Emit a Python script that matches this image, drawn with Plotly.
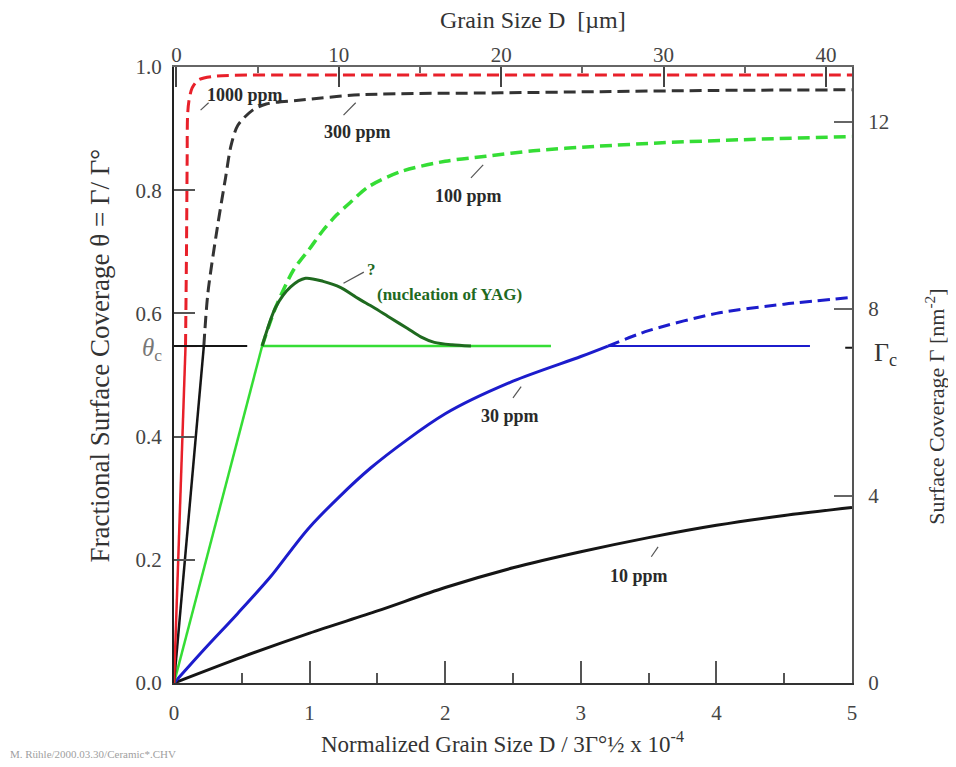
import plotly.graph_objects as go

# ---------------- data ----------------
theta_c = 0.547
gamma_per_theta = 13.17          # right axis: Gamma [nm^-2] at theta = 1

ppm1000_solid_x = [0, 0.085]
ppm1000_solid_y = [0, 0.547]
ppm1000_dash_x = [0.085, 0.092, 0.097, 0.1, 0.11, 0.134, 0.18, 0.3, 1, 2, 3, 4, 5]
ppm1000_dash_y = [0.547, 0.7, 0.85, 0.92, 0.945, 0.966, 0.979, 0.985, 0.987, 0.987, 0.987, 0.987, 0.987]
ppm1000_hline_x = [0.05, 0.17]

ppm300_solid_x = [0, 0.22]
ppm300_solid_y = [0, 0.547]
ppm300_dash_x = [0.22, 0.25, 0.32, 0.38, 0.42, 0.47, 0.58, 0.68, 0.92, 1.38, 2.41, 3.15, 4.0, 5.0]
ppm300_dash_y = [0.547, 0.633, 0.74, 0.82, 0.872, 0.905, 0.93, 0.94, 0.946, 0.955, 0.958, 0.96, 0.962, 0.963]
theta_c_black_x = [-0.07, 0.54]

ppm100_solid_x = [0, 0.65]
ppm100_solid_y = [0, 0.547]
ppm100_dash_x = [0.65, 0.75, 0.88, 1.0, 1.1, 1.2, 1.3, 1.43, 1.67, 2.0, 2.3, 2.65, 3.1, 3.6, 4.2, 5.0]
ppm100_dash_y = [0.547, 0.61, 0.67, 0.705, 0.735, 0.76, 0.78, 0.805, 0.83, 0.847, 0.855, 0.864, 0.871, 0.877, 0.882, 0.887]
ppm100_hline_x = [0.65, 2.78]

yag_x = [0.65, 0.75, 0.86, 0.97, 1.1, 1.23, 1.36, 1.47, 1.6, 1.72, 1.82, 1.92, 2.05, 2.19]
yag_y = [0.547, 0.61, 0.643, 0.657, 0.652, 0.642, 0.624, 0.61, 0.592, 0.576, 0.562, 0.553, 0.549, 0.547]

ppm30_solid_x = [0, 0.22, 0.47, 0.71, 1.0, 1.45, 2.0, 2.5, 3.0, 3.2]
ppm30_solid_y = [0, 0.054, 0.113, 0.172, 0.253, 0.349, 0.437, 0.49, 0.53, 0.547]
ppm30_dash_x = [3.2, 3.5, 4.0, 4.5, 5.0]
ppm30_dash_y = [0.547, 0.572, 0.6, 0.615, 0.626]
ppm30_hline_x = [3.2, 4.69]

ppm10_x = [0, 0.5, 1, 1.5, 2, 2.5, 3, 3.5, 4, 4.5, 5]
ppm10_y = [0, 0.042, 0.081, 0.117, 0.155, 0.187, 0.213, 0.236, 0.256, 0.272, 0.285]

bottom_ticks = [0, 1, 2, 3, 4, 5]
left_ticks = [0.0, 0.2, 0.4, 0.6, 0.8, 1.0]
top_ticks = [0, 10, 20, 30, 40]
right_ticks = [0, 4, 8, 12]

# ---------------- styling ----------------
RED = "#e8202a"
BLACK = "#151515"
GRAY_BLACK = "#333333"
GREEN = "#35dd35"
DKGREEN = "#1f6a1f"
BLUE = "#1c1ccc"
SERIF = "Liberation Serif"
DASH = "12px,6px"

fig = go.Figure()


def add_line(x, y, color, width, dash="solid", shape="spline"):
    fig.add_trace(go.Scatter(x=x, y=y, mode="lines", showlegend=False, hoverinfo="skip",
                             line=dict(color=color, width=width, dash=dash, shape=shape,
                                       smoothing=0.8 if shape == "spline" else None)))


# 10 ppm
add_line(ppm10_x, ppm10_y, BLACK, 3)
# 30 ppm
add_line(ppm30_hline_x, [theta_c] * len(ppm30_hline_x), BLUE, 2, shape="linear")
add_line(ppm30_solid_x, ppm30_solid_y, BLUE, 3)
add_line(ppm30_dash_x, ppm30_dash_y, BLUE, 3, DASH)
# 100 ppm
add_line(ppm100_hline_x, [theta_c] * len(ppm100_hline_x), GREEN, 2.5, shape="linear")
add_line(ppm100_solid_x, ppm100_solid_y, GREEN, 2.5, shape="linear")
add_line(ppm100_dash_x, ppm100_dash_y, GREEN, 3.5, DASH)
add_line(yag_x, yag_y, DKGREEN, 3)
# 300 ppm
add_line(ppm300_solid_x, ppm300_solid_y, BLACK, 2.5, shape="linear")
add_line(ppm300_dash_x, ppm300_dash_y, GRAY_BLACK, 3, DASH)
# 1000 ppm
add_line(ppm1000_hline_x, [theta_c] * len(ppm1000_hline_x), RED, 2, shape="linear")
add_line(ppm1000_solid_x, ppm1000_solid_y, RED, 2.5, shape="linear")
add_line(ppm1000_dash_x, ppm1000_dash_y, RED, 3, DASH)

# secondary axes (top: grain size in um, right: Gamma)
fig.add_trace(go.Scatter(x=[], y=[], xaxis="x2", yaxis="y2", showlegend=False, hoverinfo="skip"))

# theta_c horizontal line crossing the left axis
fig.add_shape(type="line", xref="x", yref="y", x0=theta_c_black_x[0], x1=theta_c_black_x[1],
              y0=theta_c, y1=theta_c, line=dict(color=BLACK, width=2))
# Gamma_c tick crossing the right axis
fig.add_shape(type="line", xref="x", yref="y", x0=4.95, x1=5.09,
              y0=theta_c * 0.995, y1=theta_c * 0.995, line=dict(color=BLACK, width=2))

# label leaders
leaders = [
    ((0.196, 0.930), (0.255, 0.942)),
    ((1.25, 0.922), (1.34, 0.942)),
    ((2.19, 0.820), (2.28, 0.841)),
    ((2.50, 0.463), (2.56, 0.481)),
    ((3.52, 0.205), (3.57, 0.221)),
    ((1.25, 0.649), (1.40, 0.667)),
]
for (a, b) in leaders:
    fig.add_shape(type="line", xref="x", yref="y", x0=a[0], y0=a[1], x1=b[0], y1=b[1],
                  line=dict(color="#555555", width=1.2))

lab_font = dict(family=SERIF, size=18, color="#2a2a2a")
labels = [
    ("<b>1000 ppm</b>", 0.52, 0.955),
    ("<b>300 ppm</b>", 1.35, 0.894),
    ("<b>100 ppm</b>", 2.17, 0.790),
    ("<b>30 ppm</b>", 2.48, 0.433),
    ("<b>10 ppm</b>", 3.43, 0.174),
]
for t, x, y in labels:
    fig.add_annotation(text=t, x=x, y=y, xref="x", yref="y", showarrow=False, font=lab_font,
                       xanchor="center", yanchor="middle")

fig.add_annotation(text="<b>?</b>", x=1.46, y=0.672, xref="x", yref="y", showarrow=False,
                   xanchor="center", yanchor="middle",
                   font=dict(family=SERIF, size=17, color=DKGREEN))
fig.add_annotation(text="<b>(nucleation of YAG)</b>", x=2.03, y=0.631, xref="x", yref="y",
                   showarrow=False, xanchor="center", yanchor="middle",
                   font=dict(family=SERIF, size=17, color=DKGREEN))

# theta_c and Gamma_c labels (outside plot area -> paper coords)
fig.add_annotation(text="<i>θ</i><sub>c</sub>", x=-0.033, y=theta_c - 0.006, xref="paper", yref="paper",
                   xanchor="center", yanchor="middle", showarrow=False,
                   font=dict(family=SERIF, size=25, color="#777777"))
fig.add_annotation(text="Γ<sub>c</sub>", x=1.049, y=theta_c - 0.013, xref="paper", yref="paper",
                   xanchor="center", yanchor="middle", showarrow=False,
                   font=dict(family=SERIF, size=26, color="#333333"))

# axis titles as annotations (off-centre as in the original)
title_color = "#333333"
fig.add_annotation(text="Fractional Surface Coverage θ = Γ/ Γ°", x=-0.109, y=0.532, xref="paper",
                   yref="paper", textangle=-90, showarrow=False, xanchor="center", yanchor="middle",
                   font=dict(family=SERIF, size=27, color=title_color))
fig.add_annotation(text="Surface Coverage Γ [nm<sup>-2</sup>]", x=1.122, y=0.448, xref="paper",
                   yref="paper", textangle=-90, showarrow=False, xanchor="center", yanchor="middle",
                   font=dict(family=SERIF, size=22, color=title_color))
fig.add_annotation(text="Grain Size D  [µm]", x=0.53, y=1.076, xref="paper", yref="paper",
                   showarrow=False, xanchor="center", yanchor="middle",
                   font=dict(family=SERIF, size=24, color=title_color))
fig.add_annotation(text="Normalized Grain Size D / 3Γ°½ x 10<sup>-4</sup>", x=0.484, y=-0.097,
                   xref="paper", yref="paper", showarrow=False, xanchor="center", yanchor="middle",
                   font=dict(family=SERIF, size=23, color=title_color))

fig.add_annotation(text="M. Rühle/2000.03.30/Ceramic*.CHV", x=-0.245, y=-0.115, xref="paper", yref="paper",
                   xanchor="left", yanchor="middle", showarrow=False,
                   font=dict(family=SERIF, size=11, color="#a0a0a0"))

tick_font = dict(family=SERIF, size=21, color="#444444")

fig.update_layout(
    width=940, height=751,
    margin=dict(l=166, r=96, t=59, b=76),
    paper_bgcolor="white", plot_bgcolor="white",
    showlegend=False,
    xaxis=dict(range=[0, 5], tickvals=bottom_ticks, ticks="inside", ticklen=22, tickwidth=1.5,
               tickcolor="#555555", minor=dict(ticks="inside", ticklen=10, dtick=0.5, tickcolor="#555555"),
               showline=True, linecolor="#333333", linewidth=2, showgrid=False, zeroline=False,
               tickfont=tick_font, ticklabelstandoff=10, automargin=False),
    yaxis=dict(range=[0, 1.0], tickvals=left_ticks, tickformat=".1f", ticks="inside", ticklen=21,
               tickwidth=1.5, tickcolor="#555555", showline=True, linecolor="#222222", linewidth=2,
               showgrid=False, zeroline=False, tickfont=tick_font, ticklabelstandoff=6, automargin=False),
    xaxis2=dict(range=[-0.15, 41.6], overlaying="x", side="top", tickvals=top_ticks, ticks="inside",
                ticklen=20, tickwidth=1.5, tickcolor="#444444",
                minor=dict(ticks="inside", ticklen=6, dtick=5, tickcolor="#666666"),
                showline=True, linecolor="#666666", linewidth=2, showgrid=False, zeroline=False,
                tickfont=tick_font, ticklabelstandoff=-5, automargin=False),
    yaxis2=dict(range=[0, gamma_per_theta], overlaying="y", side="right", tickvals=right_ticks,
                ticks="inside", ticklen=18, tickwidth=1.5, tickcolor="#666666",
                showline=True, linecolor="#555555", linewidth=2, showgrid=False, zeroline=False,
                tickfont=tick_font, ticklabelstandoff=10, automargin=False),
)

fig.write_html("out.html")
